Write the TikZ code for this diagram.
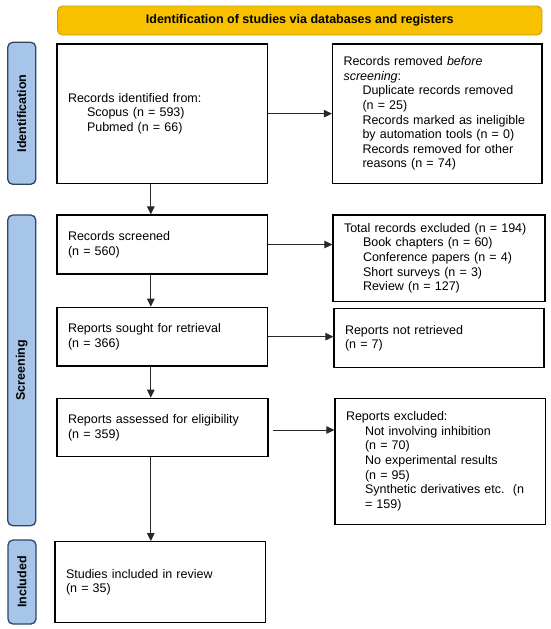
\documentclass[tikz,border=0pt]{standalone}
\usepackage{fontspec}
\setmainfont{Liberation Sans}
\usetikzlibrary{arrows.meta}
\definecolor{bannerfill}{RGB}{247,193,0}
\definecolor{bannerdraw}{RGB}{200,155,20}
\definecolor{sidefill}{RGB}{166,197,232}
\definecolor{sidedraw}{RGB}{45,70,100}
\definecolor{arrowcol}{RGB}{40,40,40}
\tikzset{
  every node/.style={font=\fontsize{12.5}{14.6}\selectfont},
  flowbox/.style={draw=black, line width=1.2pt, fill=white, inner xsep=11pt, inner ysep=0pt, align=left, anchor=center},
  banner/.style={draw=bannerdraw, line width=0.9pt, fill=bannerfill, rounded corners=5pt, minimum width=484.5pt, minimum height=29pt, inner sep=0pt, font=\fontsize{12.5}{14.6}\selectfont\bfseries},
  sidelabel/.style={draw=sidedraw, line width=1.3pt, fill=sidefill, rounded corners=5pt, minimum height=28pt, inner sep=0pt, rotate=90, font=\fontsize{12.5}{14.6}\selectfont\bfseries},
  flowarrow/.style={draw=arrowcol, line width=0.9pt, -{Triangle[length=8pt,width=7.5pt]}}
}
\newcommand{\ind}{\hspace*{19pt}}
\begin{document}
\begin{tikzpicture}[x=1pt,y=1pt]
\useasboundingbox (0,0) rectangle (550,-629);
\coordinate (vx) at (150.8,0);

\node[banner] (ban) at (299.75,-20.5) {Identification of studies via databases and registers};

\node[sidelabel, minimum width=142pt] (sid) at (21.75,-113.3) {Identification};
\node[sidelabel, minimum width=310.7pt] (sscr) at (21.75,-370.35) {Screening};
\node[sidelabel, minimum width=84pt] (sinc) at (22,-582) {Included};

\node[flowbox, minimum width=210.5pt, minimum height=139.3pt, text width=188.5pt] (ident) at (162.25,-113.65)
  {Records identified from:\\\ind Scopus (n = 593)\\\ind Pubmed (n = 66)};
\node[flowbox, minimum width=209.5pt, minimum height=139.3pt, text width=187.5pt] (removed) at (437.25,-113.65)
  {Records removed \textit{before}\\\textit{screening}:\\\ind Duplicate records removed\\\ind (n = 25)\\\ind Records marked as ineligible\\\ind by automation tools (n = 0)\\\ind Records removed for other\\\ind reasons (n = 74)};

\node[flowbox, minimum width=210.5pt, minimum height=59pt, text width=188.5pt] (screened) at (162.25,-244.5)
  {Records screened\\(n = 560)};
\node[flowbox, minimum width=212pt, minimum height=86.7pt, text width=190pt] (totex) at (439,-258.35)
  {Total records excluded (n = 194)\\\ind Book chapters (n = 60)\\\ind Conference papers (n = 4)\\\ind Short surveys (n = 3)\\\ind Review (n = 127)};

\node[flowbox, minimum width=210.5pt, minimum height=58.7pt, text width=188.5pt] (sought) at (162.25,-336.65)
  {Reports sought for retrieval\\(n = 366)};
\node[flowbox, minimum width=210pt, minimum height=59.2pt, text width=188pt] (notret) at (439,-338.1)
  {Reports not retrieved\\(n = 7)};

\node[flowbox, minimum width=211pt, minimum height=58.4pt, text width=189pt] (assessed) at (162.5,-427.5)
  {Reports assessed for eligibility\\(n = 359)};
\node[flowbox, minimum width=210.4pt, minimum height=126pt, text width=188.4pt] (repex) at (440.2,-461.3)
  {Reports excluded:\\\ind Not involving inhibition\\\ind (n = 70)\\\ind No experimental results\\\ind (n = 95)\\\ind Synthetic derivatives etc.\ \ (n\\\ind = 159)};

\node[flowbox, minimum width=210.5pt, minimum height=81pt, text width=188.5pt] (studies) at (160.25,-582.2)
  {Studies included in review\\(n = 35)};

\draw[flowarrow] (ident.east) -- (removed.west);
\draw[flowarrow] (screened.east) -- (screened.east -| totex.west);
\draw[flowarrow] (sought.east) -- (sought.east -| notret.west);
\draw[flowarrow, shorten <=4pt] ([yshift=-2.5pt]assessed.east) -- ([yshift=-2.5pt]assessed.east -| repex.west);

\draw[flowarrow] (ident.south -| vx) -- (screened.north -| vx);
\draw[flowarrow] (screened.south -| vx) -- (sought.north -| vx);
\draw[flowarrow] (sought.south -| vx) -- (assessed.north -| vx);
\draw[flowarrow] (assessed.south -| vx) -- (studies.north -| vx);
\end{tikzpicture}
\end{document}
